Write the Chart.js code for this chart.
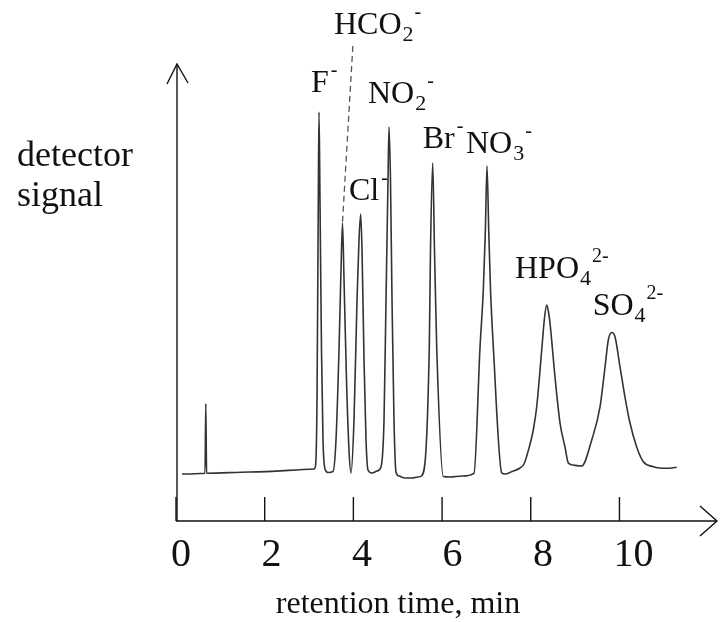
<!DOCTYPE html>
<html>
<head>
<meta charset="utf-8">
<script src="https://cdn.jsdelivr.net/npm/chart.js@4/dist/chart.umd.min.js"></script>
<style>
html,body{margin:0;padding:0;background:#fff;}
canvas{display:block;}
</style>
</head>
<body>
<canvas id="c" width="723" height="622"></canvas>
<script>
// retention time (min)
const timeMin = [0.135,0.654,0.672,0.690,1.669,3.112,3.146,3.180,3.209,3.225,3.247,3.281,3.315,3.360,3.428,3.541,3.608,3.676,3.721,3.755,3.789,3.845,3.901,3.946,4.014,4.082,4.127,4.165,4.195,4.240,4.285,4.330,4.420,4.533,4.623,4.691,4.736,4.781,4.803,4.837,4.871,4.916,4.961,5.029,5.164,5.322,5.457,5.536,5.712,5.739,5.789,5.829,5.879,6.028,6.179,6.450,6.720,6.856,6.930,6.975,7.013,7.054,7.093,7.156,7.345,7.419,7.577,7.758,7.848,7.961,8.057,8.134,8.247,8.310,8.360,8.400,8.434,8.547,8.660,8.772,8.847,8.953,9.149,9.375,9.562,9.675,9.749,9.826,9.900,10.013,10.125,10.238,10.389,10.538,10.764,11.066,11.291];
// detector signal (arbitrary units)
const signal = [10.28,10.44,25.67,10.44,10.72,11.38,12.04,26.48,70.24,89.50,70.24,37.42,17.72,11.38,10.61,10.83,17.72,37.42,54.92,65.21,52.74,30.85,15.54,10.50,22.10,48.36,61.49,67.18,59.30,35.23,17.72,11.16,10.50,10.94,11.82,22.10,48.36,74.62,86.21,74.62,48.36,22.10,10.72,9.85,9.41,9.41,9.63,9.85,38.07,59.30,78.34,59.30,38.07,9.74,9.63,9.85,10.44,38.07,50.55,63.02,77.68,63.02,50.55,38.07,10.57,10.28,10.83,11.60,12.47,15.97,19.91,24.95,37.42,44.42,47.26,45.73,43.33,31.51,21.44,16.19,12.69,12.25,12.04,17.72,24.95,33.70,39.61,41.25,40.33,33.70,27.13,21.44,16.19,12.98,11.88,11.53,11.75];
// x-axis tick labels
const tickValues = [0, 2, 4, 6, 8, 10];
// peak labels: [main, subscript, superscript]
const peakNames = [["F","","-"],["HCO","2","-"],["NO","2","-"],["Cl","","-"],["Br","","-"],["NO","3","-"],["HPO","4","2-"],["SO","4","2-"]];
const peakLabelX = [3.044,3.563,4.330,3.901,5.563,6.540,7.645,9.397];
const peakLabelY = [93.87,106.56,91.47,70.24,81.62,80.53,53.17,45.08];
// HCO2- leader line
const leaderX = [3.755, 3.992];
const leaderY = [65.5, 104.6];

const SERIF = '"Liberation Serif", "Times New Roman", serif';

const drawPlugin = {
  id: 'chromDecor',
  afterDraw(chart) {
    const ctx = chart.ctx, xs = chart.scales.x, ys = chart.scales.y;
    const x0 = xs.getPixelForValue(0), yb = ys.getPixelForValue(0);
    const xr = chart.chartArea.right, yt = chart.chartArea.top;
    ctx.save();
    ctx.strokeStyle = '#111'; ctx.lineWidth = 1.4; ctx.lineCap = 'butt';
    // y axis + arrow
    ctx.beginPath(); ctx.moveTo(x0 + 1, yb); ctx.lineTo(x0 + 1, yt); ctx.stroke();
    ctx.beginPath(); ctx.moveTo(x0 + 1 - 10, yt + 20); ctx.lineTo(x0 + 1, yt); ctx.lineTo(x0 + 1 + 11, yt + 19); ctx.stroke();
    // x axis + arrow
    ctx.beginPath(); ctx.moveTo(x0, yb); ctx.lineTo(xr, yb); ctx.stroke();
    ctx.beginPath(); ctx.moveTo(xr - 17, yb - 15); ctx.lineTo(xr, yb); ctx.lineTo(xr - 17, yb + 15); ctx.stroke();
    // ticks and labels
    ctx.fillStyle = '#111';
    ctx.font = '40px ' + SERIF;
    ctx.textAlign = 'center'; ctx.textBaseline = 'alphabetic';
    tickValues.forEach(v => {
      const px = xs.getPixelForValue(v);
      ctx.beginPath(); ctx.moveTo(px, yb - 24); ctx.lineTo(px, yb); ctx.stroke();
      ctx.fillText(String(v), px + 5 + 0.9 * v, yb + 45);
    });
    // axis titles
    ctx.font = '32px ' + SERIF;
    ctx.fillText('retention time, min', 398, 613);
    ctx.textAlign = 'left';
    ctx.font = '36px ' + SERIF;
    ctx.fillText('detector', 17, 166);
    ctx.fillText('signal', 17, 206);
    // peak labels
    peakNames.forEach((p, i) => {
      let x = xs.getPixelForValue(peakLabelX[i]);
      const y = ys.getPixelForValue(peakLabelY[i]);
      ctx.font = '32px ' + SERIF;
      ctx.fillText(p[0], x, y);
      x += ctx.measureText(p[0]).width;
      if (p[1]) {
        ctx.font = '22px ' + SERIF;
        ctx.fillText(p[1], x + 1, y + 7);
        x += ctx.measureText(p[1]).width + 2;
      } else {
        x += 2;
      }
      ctx.font = '20px ' + SERIF;
      ctx.fillText(p[2], x, y - 16);
    });
    ctx.restore();
  }
};

new Chart(document.getElementById('c'), {
  type: 'line',
  data: {
    datasets: [
      {
        data: timeMin.map((t, i) => ({x: t, y: signal[i]})),
        borderColor: '#333', borderWidth: 1.6, pointRadius: 0,
        cubicInterpolationMode: 'monotone', fill: false
      },
      {
        data: leaderX.map((t, i) => ({x: t, y: leaderY[i]})),
        borderColor: '#555', borderWidth: 1.3, borderDash: [6, 4],
        pointRadius: 0, fill: false, clip: false
      }
    ]
  },
  options: {
    responsive: false, animation: false, devicePixelRatio: 1,
    layout: { padding: { left: 176, right: 6, top: 64, bottom: 101 } },
    plugins: { legend: { display: false }, tooltip: { enabled: false } },
    scales: {
      x: { type: 'linear', min: 0, max: 12.2, display: false },
      y: { type: 'linear', min: 0, max: 100, display: false }
    }
  },
  plugins: [drawPlugin]
});
</script>
</body>
</html>
